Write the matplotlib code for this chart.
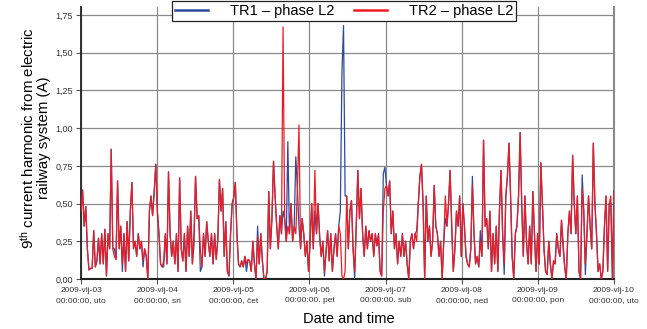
import numpy as np
import matplotlib
matplotlib.use("Agg")
import matplotlib.pyplot as plt

plt.rcParams['font.family'] = ['Liberation Sans', 'DejaVu Sans']
plt.rcParams['mathtext.fontset'] = 'custom'
plt.rcParams['mathtext.rm'] = 'Liberation Sans'
plt.rcParams['mathtext.it'] = 'Liberation Sans:italic'

# 9th harmonic current, TR2 phase L2, half-hour readings per day (A)
day03 = [0.45, 0.59, 0.35, 0.48, 0.20, 0.06, 0.07, 0.07, 0.32, 0.08,
         0.12, 0.27, 0.10, 0.30, 0.10, 0.33, 0.02, 0.30, 0.20, 0.86,
         0.20, 0.15, 0.13, 0.65, 0.20, 0.35, 0.10, 0.30, 0.05, 0.38,
         0.12, 0.45, 0.64, 0.20, 0.25, 0.15, 0.30, 0.20, 0.25, 0.12,
         0.20, 0.15, 0.00, 0.45, 0.55, 0.42, 0.58, 0.76]
day04 = [0.45, 0.30, 0.10, 0.08, 0.12, 0.30, 0.10, 0.71, 0.30, 0.15,
         0.25, 0.10, 0.30, 0.05, 0.67, 0.20, 0.12, 0.30, 0.05, 0.35,
         0.15, 0.45, 0.10, 0.30, 0.68, 0.40, 0.42, 0.20, 0.08, 0.30,
         0.15, 0.38, 0.25, 0.15, 0.30, 0.10, 0.30, 0.13, 0.26, 0.66,
         0.45, 0.60, 0.15, 0.38, 0.05, 0.02, 0.30, 0.50]
day05 = [0.54, 0.64, 0.30, 0.10, 0.08, 0.12, 0.08, 0.15, 0.10, 0.13,
         0.12, 0.05, 0.25, 0.10, 0.00, 0.28, 0.10, 0.30, 0.12, 0.00,
         0.00, 0.05, 0.58, 0.20, 0.40, 0.78, 0.55, 0.35, 0.20, 0.42,
         0.30, 1.67, 0.40, 0.25, 0.35, 0.30, 0.50, 0.25, 0.35, 0.30,
         0.60, 1.02, 0.20, 0.40, 0.30, 0.15, 0.25, 0.05]
day06 = [0.25, 0.50, 0.20, 0.72, 0.30, 0.50, 0.28, 0.15, 0.25, 0.05,
         0.18, 0.32, 0.12, 0.30, 0.05, 0.20, 0.30, 0.15, 0.35, 0.30,
         0.02, 0.00, 0.05, 0.55, 0.20, 0.45, 0.52, 0.20, 0.05, 0.35,
         0.72, 0.40, 0.60, 0.30, 0.15, 0.35, 0.20, 0.32, 0.25, 0.30,
         0.15, 0.30, 0.22, 0.30, 0.05, 0.02, 0.45, 0.60]
day07 = [0.62, 0.55, 0.65, 0.30, 0.45, 0.20, 0.30, 0.10, 0.25, 0.15,
         0.30, 0.15, 0.25, 0.10, 0.00, 0.25, 0.30, 0.20, 0.30, 0.25,
         0.50, 0.68, 0.76, 0.50, 0.00, 0.55, 0.25, 0.35, 0.15, 0.25,
         0.62, 0.35, 0.30, 0.15, 0.25, 0.00, 0.25, 0.55, 0.35, 0.50,
         0.72, 0.35, 0.05, 0.20, 0.45, 0.35, 0.55, 0.15]
day08 = [0.50, 0.35, 0.15, 0.10, 0.08, 0.20, 0.62, 0.30, 0.10, 0.15,
         0.08, 0.25, 0.15, 0.92, 0.35, 0.40, 0.20, 0.45, 0.05, 0.30,
         0.10, 0.35, 0.05, 0.45, 0.72, 0.30, 0.10, 0.55, 0.68, 0.90,
         0.55, 0.15, 0.00, 0.30, 0.35, 0.55, 0.97, 0.50, 0.15, 0.55,
         0.25, 0.10, 0.35, 0.10, 0.58, 0.30, 0.05, 0.30]
day09 = [0.10, 0.77, 0.50, 0.20, 0.05, 0.03, 0.25, 0.10, 0.00, 0.12,
         0.10, 0.30, 0.20, 0.15, 0.39, 0.25, 0.08, 0.00, 0.30, 0.45,
         0.30, 0.82, 0.50, 0.30, 0.55, 0.05, 0.00, 0.60, 0.45, 0.10,
         0.30, 0.55, 0.35, 0.20, 0.90, 0.50, 0.30, 0.05, 0.10, 0.00,
         0.05, 0.35, 0.55, 0.05, 0.50, 0.55, 0.00, 0.58]
days_tr2 = [day03, day04, day05, day06, day07, day08, day09]

# TR1 follows TR2 closely, these are the readings where it differs
# (day index, sample index, value)
tr1_changes = [
    (0, 21, 0.20), (0, 26, 0.05), (0, 39, 0.08),
    (1, 4, 0.08), (1, 23, 0.22), (1, 27, 0.05),
    (2, 8, 0.05), (2, 15, 0.35), (2, 31, 0.45), (2, 34, 0.91),
    (2, 39, 0.81), (2, 41, 0.35),
    (3, 3, 0.45), (3, 9, 0.02), (3, 19, 0.45), (3, 20, 1.36),
    (3, 21, 1.68), (3, 22, 0.55), (3, 28, 0.00), (3, 46, 0.70),
    (3, 47, 0.74),
    (4, 19, 0.32), (4, 37, 0.40),
    (5, 6, 0.68), (5, 11, 0.32), (5, 26, 0.03),
    (6, 15, 0.20), (6, 27, 0.69), (6, 29, 0.03), (6, 45, 0.50),
]

x_tick_labels = ["2009-vlj-03\n00:00:00, uto", "2009-vlj-04\n00:00:00, sri",
                 "2009-vlj-05\n00:00:00, čet", "2009-vlj-06\n00:00:00. pet",
                 "2009-vlj-07\n00:00:00. sub", "2009-vlj-08\n00:00:00, ned",
                 "2009-vlj-09\n00:00:00, pon", "2009-vlj-10\n00:00:00, uto"]
y_ticks = [0.0, 0.25, 0.5, 0.75, 1.0, 1.25, 1.5, 1.75]
y_tick_labels = ["0,00", "0,25", "0,50", "0,75", "1,00", "1,25", "1,50", "1,75"]

# build series
tr2 = np.concatenate([np.array(d) for d in days_tr2])
offsets = np.cumsum([0] + [len(d) for d in days_tr2])
tr1 = tr2.copy()
for d, i, v in tr1_changes:
    tr1[offsets[d] + i] = v
t = np.linspace(0, 7, len(tr2))

fig = plt.figure(figsize=(6.47, 3.29), dpi=100)
ax = fig.add_axes([81 / 647, 50 / 329, 533 / 647, 272 / 329])

ax.plot(t, tr1, color='#2b4b9e', lw=0.9, label='TR1 – phase L2', zorder=3)
ax.plot(t, tr2, color='#ec1c24', lw=0.9, label='TR2 – phase L2', zorder=4)

ax.set_xlim(0, 7)
ax.set_ylim(0, 1.8025)
ax.set_xticks(range(8))
ax.set_xticklabels(x_tick_labels, fontsize=6, color='#333333', linespacing=1.45)
ax.set_yticks(y_ticks)
ax.set_yticklabels(y_tick_labels, fontsize=6.5, color='#333333')
ax.tick_params(axis='both', direction='out', length=3.5, width=0.8,
               color='#555555', pad=2.5)

ax.grid(True, color='#8a8a8a', lw=0.9)
ax.set_axisbelow(True)

ax.spines['top'].set_visible(False)
ax.spines['left'].set_color('#222222')
ax.spines['left'].set_linewidth(1.3)
ax.spines['bottom'].set_color('#222222')
ax.spines['bottom'].set_linewidth(1.5)
ax.spines['right'].set_color('#8a8a8a')
ax.spines['right'].set_linewidth(1.5)

fig.text(0.054, 0.58, "9$^{\\rm th}$ current harmonic from electric\nrailway system (A)",
         rotation=90, ha='center', va='center', fontsize=10.8,
         multialignment='center', linespacing=1.1)
fig.text(0.539, 0.03, "Date and time", ha='center', va='center', fontsize=10.5)

leg = fig.legend(loc='upper center', bbox_to_anchor=(0.532, 0.997), ncol=2,
                 fontsize=10.5, frameon=True, fancybox=False, borderpad=0.2,
                 handlelength=2.3, handletextpad=1.5, columnspacing=1.3,
                 borderaxespad=0)
leg.get_frame().set_edgecolor('#222222')
leg.get_frame().set_linewidth(0.9)
leg.get_frame().set_alpha(1)
for line in leg.get_lines():
    line.set_linewidth(1.8)

fig.savefig('out.png', dpi=100)
